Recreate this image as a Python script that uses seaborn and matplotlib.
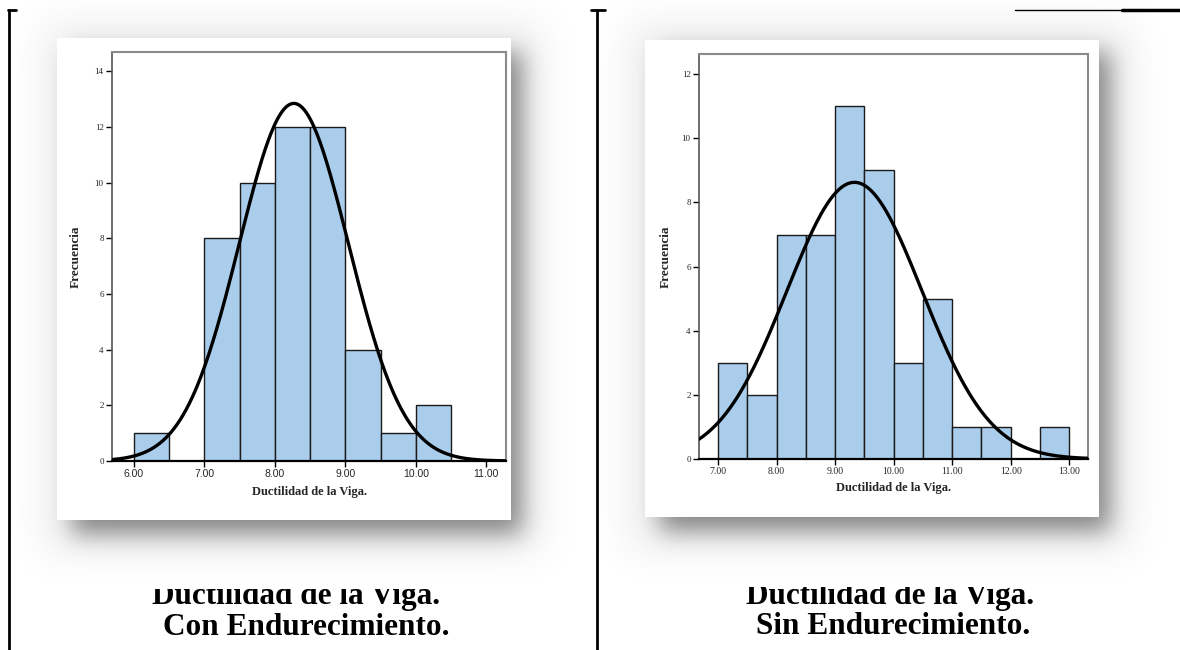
import numpy as np
import pandas as pd
import matplotlib
matplotlib.use("Agg")
import matplotlib.pyplot as plt
from matplotlib.patches import Rectangle
from matplotlib.transforms import Bbox, TransformedBbox
import seaborn as sns

# ---------------- data ----------------
left_bin_start = [6.0, 6.5, 7.0, 7.5, 8.0, 8.5, 9.0, 9.5, 10.0]
left_counts = [1, 0, 8, 10, 12, 12, 4, 1, 2]
left_mean, left_sd = 8.27, 0.776
left_xticks = [6.0, 7.0, 8.0, 9.0, 10.0, 11.0]
left_yticks = [0, 2, 4, 6, 8, 10, 12, 14]

right_bin_start = [7.0, 7.5, 8.0, 8.5, 9.0, 9.5, 10.0, 10.5, 11.0, 11.5, 12.0, 12.5]
right_counts = [3, 2, 7, 7, 11, 9, 3, 5, 1, 1, 0, 1]
right_mean, right_sd = 9.33, 1.156
right_xticks = [7.0, 8.0, 9.0, 10.0, 11.0, 12.0, 13.0]
right_yticks = [0, 2, 4, 6, 8, 10, 12]

bin_width = 0.5
x_label = "Ductilidad de la Viga."
y_label = "Frecuencia"
captions_left = ["Ductilidad de la Viga.", "Con Endurecimiento."]
captions_right = ["Ductilidad de la Viga.", "Sin Endurecimiento."]

# ---------------- style ----------------
sns.set_style("white")
plt.rcParams["font.family"] = ["Liberation Serif", "DejaVu Serif"]

W, H = 1180, 650
fig = plt.figure(figsize=(W / 100, H / 100), dpi=100)
fig.patch.set_facecolor("white")

# background layer in pixel coordinates
bg = fig.add_axes([0, 0, 1, 1], zorder=0)
bg.set_xlim(0, W)
bg.set_ylim(H, 0)
bg.axis("off")


def Phi(z):
    return 0.5 * (1 + np.tanh(0.7978845608 * (z + 0.044715 * z ** 3)))


xx = np.arange(W) + 0.5
yy = np.arange(H) + 0.5


def blurred(x0, x1, y0, y1, s):
    return np.outer(Phi((yy - y0) / s) - Phi((yy - y1) / s),
                    Phi((xx - x0) / s) - Phi((xx - x1) / s))


shade = (0.42 * blurred(72, 522, 52, 534, 12)
         + 0.42 * blurred(660, 1110, 52, 531, 12)
         + 0.06 * blurred(40, 545, 20, 555, 20)
         + 0.06 * blurred(625, 1135, 20, 553, 20))
shade = np.clip(shade, 0, 0.6)
bg.imshow(1 - shade, cmap="gray", vmin=0, vmax=1, extent=(0, W, H, 0),
          aspect="auto", interpolation="bilinear", zorder=0)

# white panels
bg.add_patch(Rectangle((57, 38), 454, 482, facecolor="white", edgecolor="none", zorder=1))
bg.add_patch(Rectangle((645, 40), 454, 477, facecolor="white", edgecolor="none", zorder=1))

# document frame lines
bg.plot([9, 9], [10, 650], color="black", lw=2, zorder=2)
bg.plot([8, 16], [10, 10], color="black", lw=2, zorder=2)
bg.plot([597, 597], [10, 650], color="black", lw=2, zorder=2)
bg.plot([591, 605], [10, 10], color="black", lw=2, zorder=2)
bg.plot([1015, 1122], [9.5, 9.5], color="black", lw=1, zorder=2)
bg.plot([1122, 1180], [10, 10], color="black", lw=2.5, zorder=2)

# captions
cap_kw = dict(fontsize=22.5, fontweight="bold", ha="center", va="baseline",
              family=["Liberation Serif"], color="black", zorder=3)
t1 = bg.text(296, 604, captions_left[0], **cap_kw)
bg.text(306, 635, captions_left[1], **cap_kw)
t2 = bg.text(890, 604, captions_right[0], **cap_kw)
bg.text(893, 634, captions_right[1], **cap_kw)
# the top of the first caption line is cut off in the scan
t1.set_clip_on(True)
t1.set_clip_box(TransformedBbox(Bbox([[0, 588.5], [W, 650]]), bg.transData))
t2.set_clip_on(True)
t2.set_clip_box(TransformedBbox(Bbox([[0, 586.5], [W, 650]]), bg.transData))

bar_color = "#aacdec"


def draw_panel(rect, bin_start, counts, mean, sd, xticks, yticks, xlim, ylim,
               xtick_family, xtick_size, xlabelpad, ylabelpad):
    ax = fig.add_axes(rect, zorder=5)
    ax.set_facecolor("white")
    edges = list(bin_start) + [bin_start[-1] + bin_width]
    mids = [b + bin_width / 2 for b in bin_start]
    df = pd.DataFrame({"x": mids, "w": counts})
    sns.histplot(data=df, x="x", weights="w", bins=edges, ax=ax,
                 color=bar_color, edgecolor="#1a1a1a", linewidth=1.0, alpha=1)
    n = sum(counts)
    xs = np.linspace(xlim[0], xlim[1], 400)
    ys = n * bin_width / (sd * np.sqrt(2 * np.pi)) * np.exp(-0.5 * ((xs - mean) / sd) ** 2)
    sns.lineplot(x=xs, y=ys, ax=ax, color="black", lw=2.4, zorder=6)
    ax.set_xlim(*xlim)
    ax.set_ylim(*ylim)
    ax.set_xticks(xticks)
    ax.set_xticklabels([f"{t:.2f}" for t in xticks], family=xtick_family, fontsize=xtick_size)
    ax.set_yticks(yticks)
    ax.set_yticklabels([str(t) for t in yticks], family=["Liberation Serif"], fontsize=6.5)
    ax.tick_params(axis="both", which="major", direction="out", length=4, width=1,
                   color="black", bottom=True, left=True, pad=2)
    ax.set_xlabel(x_label, fontsize=9, fontweight="bold", family=["Liberation Serif"],
                  labelpad=xlabelpad)
    ax.set_ylabel(y_label, fontsize=9.5, fontweight="bold", family=["Liberation Serif"],
                  labelpad=ylabelpad)
    for s in ["top", "right"]:
        ax.spines[s].set_color("#8a8a8a")
        ax.spines[s].set_linewidth(1.5)
    ax.spines["left"].set_color("#555555")
    ax.spines["left"].set_linewidth(1.2)
    ax.spines["bottom"].set_color("black")
    ax.spines["bottom"].set_linewidth(1.6)
    return ax


draw_panel([112 / W, 1 - 461 / H, 394 / W, 409 / H], left_bin_start, left_counts,
           left_mean, left_sd, left_xticks, left_yticks, (5.69, 11.28), (0, 14.7),
           ["Liberation Sans"], 7.5, 5, 9)
draw_panel([699 / W, 1 - 459 / H, 389 / W, 405 / H], right_bin_start, right_counts,
           right_mean, right_sd, right_xticks, right_yticks, (6.675, 13.32), (0, 12.63),
           ["Liberation Serif"], 7, 4, 7)

fig.savefig("out.png", dpi=100, facecolor="white")
